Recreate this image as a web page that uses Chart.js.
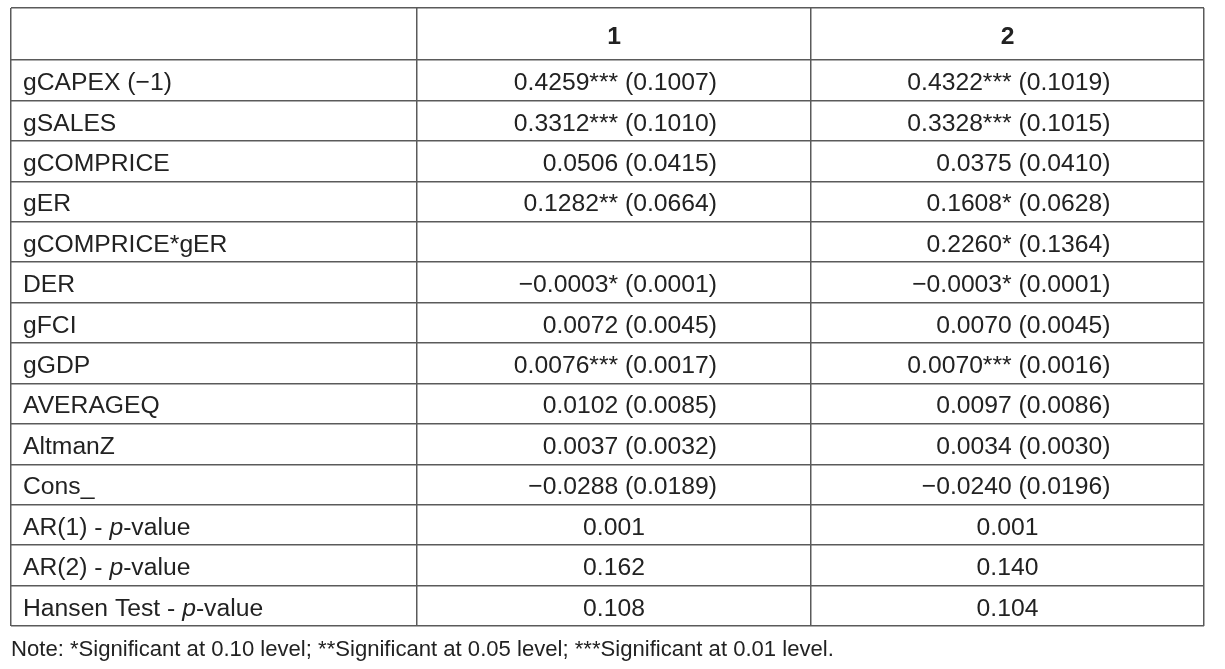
<!DOCTYPE html>
<html>
<head>
<meta charset="utf-8">
<script src="https://cdn.jsdelivr.net/npm/chart.js@4.4.1/dist/chart.umd.min.js"></script>
<style>
  html, body { margin: 0; padding: 0; background: #fff; }
  #tbl { display: block; }
</style>
</head>
<body>
<canvas id="tbl" width="1225" height="669"></canvas>
<script>
// Data of the table
const rowLabels = ['gCAPEX (−1)', 'gSALES', 'gCOMPRICE', 'gER', 'gCOMPRICE*gER', 'DER', 'gFCI', 'gGDP', 'AVERAGEQ', 'AltmanZ', 'Cons_'];
const testLabels = ['AR(1) - p-value', 'AR(2) - p-value', 'Hansen Test - p-value'];
const modelNames = ['1', '2'];

const coef1 = [0.4259, 0.3312, 0.0506, 0.1282, null, -0.0003, 0.0072, 0.0076, 0.0102, 0.0037, -0.0288];
const stars1 = ['***', '***', '', '**', '', '*', '', '***', '', '', ''];
const se1 = [0.1007, 0.1010, 0.0415, 0.0664, null, 0.0001, 0.0045, 0.0017, 0.0085, 0.0032, 0.0189];
const pval1 = [0.001, 0.162, 0.108];

const coef2 = [0.4322, 0.3328, 0.0375, 0.1608, 0.2260, -0.0003, 0.0070, 0.0070, 0.0097, 0.0034, -0.0240];
const stars2 = ['***', '***', '', '*', '*', '*', '', '***', '', '', ''];
const se2 = [0.1019, 0.1015, 0.0410, 0.0628, 0.1364, 0.0001, 0.0045, 0.0016, 0.0086, 0.0030, 0.0196];
const pval2 = [0.001, 0.140, 0.104];

const noteText = 'Note: *Significant at 0.10 level; **Significant at 0.05 level; ***Significant at 0.01 level.';

// Layout of the grid (scale units = pixels)
const colEdges = [0, 406, 800, 1193];
const headerH = 52;
const rowH = 40.4;
const allLabels = rowLabels.concat(testLabels);
const rowEdges = [0, headerH];
allLabels.forEach((_, i) => rowEdges.push(headerH + rowH * (i + 1)));

const FONT = '"Liberation Sans", Arial, Helvetica, sans-serif';
const FONT_SIZE = 24.7;
const TEXT_COLOR = '#222';
const LINE_COLOR = '#5a5a5a';

const rowMid = i => headerH + rowH * (i + 0.5);
const colMid = j => (colEdges[j] + colEdges[j + 1]) / 2;
const fmt = v => (v < 0 ? '−' : '') + Math.abs(v).toFixed(4);

function coefCells(coef, stars, se) {
    return coef.map((c, i) => c === null ? '' : fmt(c) + stars[i] + ' (' + se[i].toFixed(4) + ')');
}

const datasets = [];
datasets.push({
    align: 'left',
    data: allLabels.map((t, i) => ({ x: colEdges[0] + 12, y: rowMid(i), text: t }))
});
datasets.push({
    align: 'center',
    bold: true,
    data: modelNames.map((t, j) => ({ x: colMid(j + 1), y: headerH / 2, text: t }))
});
[[coef1, stars1, se1, pval1], [coef2, stars2, se2, pval2]].forEach(([c, s, e, p], j) => {
    datasets.push({
        align: 'right',
        data: coefCells(c, s, e).map((t, i) => ({ x: colMid(j + 1) + 103, y: rowMid(i), text: t }))
    });
    datasets.push({
        align: 'center',
        data: p.map((v, i) => ({ x: colMid(j + 1), y: rowMid(rowLabels.length + i), text: v.toFixed(3) }))
    });
});
datasets.forEach(d => { d.pointRadius = 0; d.pointHoverRadius = 0; });

// Draws the cell text at the positions the scales give to each point
const cellText = {
    id: 'cellText',
    afterDatasetsDraw(chart) {
        const ctx = chart.ctx;
        ctx.save();
        ctx.fillStyle = TEXT_COLOR;
        ctx.textBaseline = 'alphabetic';
        chart.data.datasets.forEach((ds, di) => {
            const meta = chart.getDatasetMeta(di);
            meta.data.forEach((el, k) => {
                const text = ds.data[k].text;
                if (!text) return;
                const base = el.y + 0.358 * FONT_SIZE + 1;
                const normal = (ds.bold ? 'bold ' : '') + FONT_SIZE + 'px ' + FONT;
                ctx.font = normal;
                const idx = text.indexOf('p-value');
                if (idx >= 0) {
                    // italic p in p-value
                    let x = el.x;
                    ctx.textAlign = 'left';
                    const pre = text.slice(0, idx);
                    ctx.fillText(pre, x, base);
                    x += ctx.measureText(pre).width;
                    ctx.font = 'italic ' + FONT_SIZE + 'px ' + FONT;
                    ctx.fillText('p', x, base);
                    x += ctx.measureText('p').width;
                    ctx.font = normal;
                    ctx.fillText('-value', x, base);
                } else {
                    ctx.textAlign = ds.align;
                    ctx.fillText(text, el.x, base);
                }
            });
        });
        ctx.restore();
    }
};

const ctx = document.getElementById('tbl').getContext('2d');
new Chart(ctx, {
    type: 'scatter',
    data: { datasets: datasets },
    options: {
        responsive: false,
        animation: false,
        events: [],
        devicePixelRatio: 1,
        layout: {
            padding: { left: 11, right: 21, top: 8, bottom: 0 }
        },
        scales: {
            x: {
                type: 'linear',
                min: colEdges[0],
                max: colEdges[colEdges.length - 1],
                ticks: { display: false },
                grid: { color: LINE_COLOR, lineWidth: 1.5, drawTicks: false },
                border: { display: false },
                afterBuildTicks: s => { s.ticks = colEdges.map(v => ({ value: v })); }
            },
            y: {
                type: 'linear',
                reverse: true,
                min: rowEdges[0],
                max: rowEdges[rowEdges.length - 1],
                ticks: { display: false },
                grid: { color: LINE_COLOR, lineWidth: 1.5, drawTicks: false },
                border: { display: false },
                afterBuildTicks: s => { s.ticks = rowEdges.map(v => ({ value: v })); }
            }
        },
        plugins: {
            legend: { display: false },
            tooltip: { enabled: false },
            title: {
                display: true,
                text: noteText,
                position: 'bottom',
                align: 'start',
                color: TEXT_COLOR,
                font: { family: FONT, size: 22.1, weight: 'normal', lineHeight: 1.2 },
                padding: { top: 10.5, bottom: 6 }
            }
        }
    },
    plugins: [cellText]
});
</script>
</body>
</html>
